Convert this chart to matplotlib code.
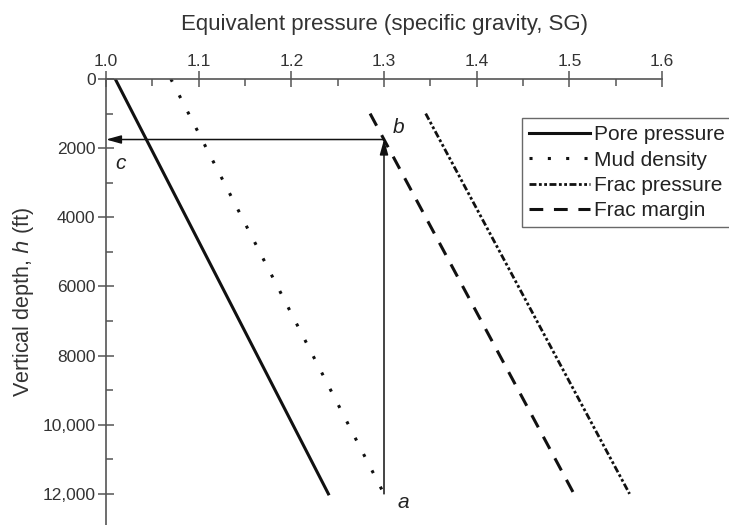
import matplotlib
matplotlib.use("Agg")
import matplotlib.pyplot as plt

plt.rcParams['font.family'] = ['Liberation Sans', 'DejaVu Sans']

# Equivalent pressure (SG) at the top and bottom of each line, with depths (ft)
names = ["Pore pressure", "Mud density", "Frac pressure", "Frac margin"]
depth_top = [0, 0, 1000, 1000]
depth_bot = [12000, 12000, 12000, 12000]
sg_top = [1.01, 1.07, 1.345, 1.285]
sg_bot = [1.24, 1.30, 1.565, 1.505]

x_ticks = [1.0, 1.1, 1.2, 1.3, 1.4, 1.5, 1.6]
y_ticks = [0, 2000, 4000, 6000, 8000, 10000, 12000]
y_tick_labels = ["0", "2000", "4000", "6000", "8000", "10,000", "12,000"]

# Design-path arrows: up from a to b, then across to c
path_sg = 1.30
path_depth_a = 12000
path_depth_b = 1750

styles = [
    dict(linestyle="-", linewidth=2.2),
    dict(linestyle=(0, (1, 5.0)), linewidth=2.2),
    dict(linestyle=(0, (2.5, 0.9, 1, 0.9, 1, 0.9)), linewidth=2.0),
    dict(linestyle=(0, (4.5, 3.5)), linewidth=2.2),
]

fig = plt.figure(figsize=(7.29, 5.25), dpi=100)
ax = fig.add_axes([0.1454, 0.0, 0.7627, 0.8495])

for name, x0, x1, d0, d1, st in zip(names, sg_top, sg_bot, depth_top, depth_bot, styles):
    ax.plot([x0, x1], [d0, d1], color="#111111", label=name, **st)

head = "-|>,head_length=0.9,head_width=0.25"
ax.annotate("", xy=(path_sg, path_depth_b), xytext=(path_sg, path_depth_a),
            arrowprops=dict(arrowstyle=head, color="#111111", lw=1.1, shrinkA=0, shrinkB=0))
ax.annotate("", xy=(1.0, path_depth_b), xytext=(path_sg, path_depth_b),
            arrowprops=dict(arrowstyle=head, color="#111111", lw=1.1, shrinkA=0, shrinkB=0))

ax.text(1.321, 12250, "a", fontsize=15, style="italic", ha="center", va="center", color="#222222")
ax.text(1.316, 1400, "b", fontsize=15, style="italic", ha="center", va="center", color="#222222")
ax.text(1.016, 2430, "c", fontsize=15, style="italic", ha="center", va="center", color="#222222")

ax.set_xlim(1.0, 1.6)
ax.set_ylim(12900, 0)

for side in ("right", "bottom"):
    ax.spines[side].set_visible(False)
for side in ("top", "left"):
    ax.spines[side].set_color("#555555")
    ax.spines[side].set_linewidth(1.2)

ax.xaxis.set_ticks_position("top")
ax.xaxis.set_label_position("top")
ax.set_xticks(x_ticks)
ax.set_xticklabels([f"{v:.1f}" for v in x_ticks])
ax.set_xticks([1.05, 1.15, 1.25, 1.35, 1.45, 1.55], minor=True)
ax.set_yticks(y_ticks)
ax.set_yticklabels(y_tick_labels)
ax.set_yticks([1000, 3000, 5000, 7000, 9000, 11000], minor=True)

ax.tick_params(which="major", direction="inout", length=11, width=1.1, color="#555555",
               labelsize=12.5, labelcolor="#333333", pad=2)
ax.tick_params(which="minor", direction="in", length=5, width=1.1, color="#555555")

ax.set_xlabel("Equivalent pressure (specific gravity, SG)", fontsize=16,
              color="#333333", labelpad=17)
ax.set_ylabel("Vertical depth, $h$ (ft)", fontsize=15.5, color="#333333", labelpad=5)

leg = fig.legend(loc="upper left", bbox_to_anchor=(0.716, 0.775), frameon=True,
                 fancybox=False, edgecolor="#444444", fontsize=15, handlelength=2.9,
                 handletextpad=0.2, labelspacing=0.3, borderpad=0.35, borderaxespad=0)
leg.get_frame().set_linewidth(1.0)
for t in leg.get_texts():
    t.set_color("#222222")

fig.savefig("out.png", dpi=100)
